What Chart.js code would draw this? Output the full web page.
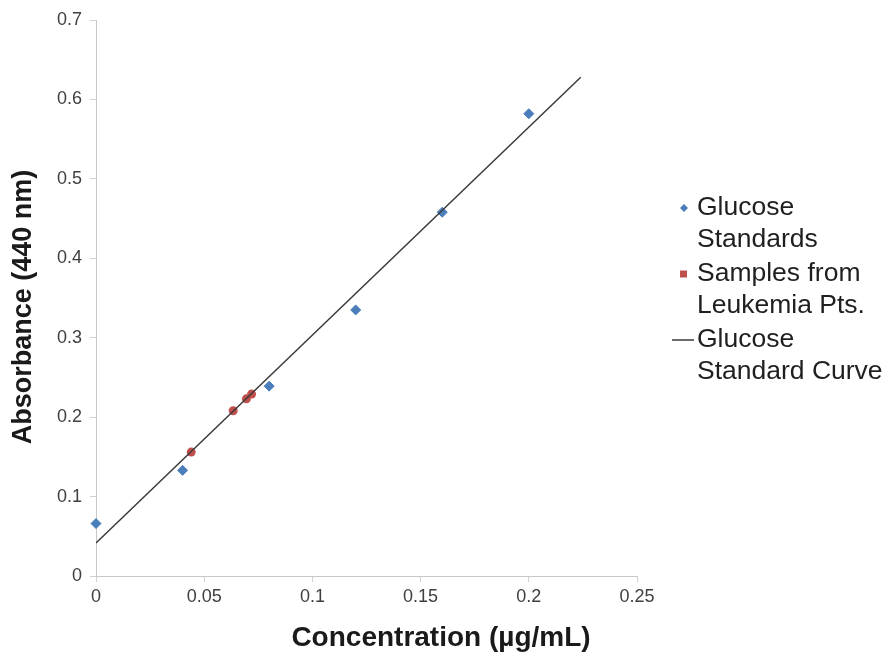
<!DOCTYPE html>
<html>
<head>
<meta charset="utf-8">
<script src="https://cdn.jsdelivr.net/npm/chart.js@4"></script>
<style>
  html, body { margin: 0; padding: 0; background: #fff; overflow: hidden; }
  #chart { display: block; }
</style>
</head>
<body>
<canvas id="chart" width="887" height="658"></canvas>
<script>
// glucose standards
const stdConc = [0, 0.04, 0.08, 0.12, 0.16, 0.2];
const stdAbs = [0.066, 0.133, 0.239, 0.335, 0.458, 0.582];
// patient samples
const sampleConc = [0.044, 0.0634, 0.0695, 0.0719];
const sampleAbs = [0.156, 0.208, 0.223, 0.229];
// standard curve (fit line end points)
const curveConc = [0, 0.224];
const curveAbs = [0.0416, 0.628];

const xTicks = [0, 0.05, 0.1, 0.15, 0.2, 0.25];
const yTicks = [0, 0.1, 0.2, 0.3, 0.4, 0.5, 0.6, 0.7];

const xTitle = 'Concentration (µg/mL)';
const yTitle = 'Absorbance (440 nm)';

const legendLines = [
    ['Glucose', 'Standards'],
    ['Samples from', 'Leukemia Pts.'],
    ['Glucose', 'Standard Curve']
];

const FONT = '"Liberation Sans", Arial, sans-serif';

const toPoints = (xs, ys) => xs.map((x, i) => ({ x: x, y: ys[i] }));

// axis titles sit off-centre in the original, so they're drawn by hand
const axisTitles = {
    id: 'axisTitles',
    afterDraw(chart) {
        const ctx = chart.ctx;
        ctx.save();
        ctx.fillStyle = '#1a1a1a';
        ctx.textAlign = 'center';
        ctx.textBaseline = 'middle';
        ctx.font = 'bold 28px ' + FONT;
        ctx.fillText(xTitle, 441, 638);
        ctx.translate(24, 307);
        ctx.rotate(-Math.PI / 2);
        ctx.font = 'bold 27px ' + FONT;
        ctx.fillText(yTitle, 0, 0);
        ctx.restore();
    }
};

// legend drawn on the canvas, two lines per entry
const sideLegend = {
    id: 'sideLegend',
    afterDraw(chart) {
        const ctx = chart.ctx;
        ctx.save();
        ctx.font = '26.5px ' + FONT;
        ctx.textBaseline = 'middle';
        const textX = 697;
        let y = 208;
        chart.data.datasets.forEach((ds, i) => {
            const lines = legendLines[i];
            if (ds.showLine) {
                ctx.strokeStyle = ds.borderColor;
                ctx.lineWidth = 1.5;
                ctx.beginPath();
                ctx.moveTo(672, y);
                ctx.lineTo(694, y);
                ctx.stroke();
            } else if (ds.pointStyle === 'rectRot') {
                ctx.fillStyle = ds.backgroundColor;
                ctx.beginPath();
                ctx.moveTo(684, y - 4);
                ctx.lineTo(688, y);
                ctx.lineTo(684, y + 4);
                ctx.lineTo(680, y);
                ctx.closePath();
                ctx.fill();
            } else {
                ctx.fillStyle = ds.backgroundColor;
                ctx.fillRect(680, y - 3.5, 7, 7);
            }
            ctx.fillStyle = '#1f1f1f';
            lines.forEach((t, j) => ctx.fillText(t, textX, y + j * 31.5));
            y += 66;
        });
        ctx.restore();
    }
};

new Chart(document.getElementById('chart'), {
    type: 'scatter',
    data: {
        datasets: [
            {
                label: 'Glucose Standards',
                data: toPoints(stdConc, stdAbs),
                pointStyle: 'rectRot',
                pointRadius: 5,
                backgroundColor: '#4a7ebb',
                borderColor: '#4a7ebb',
                clip: false,
                order: 2
            },
            {
                label: 'Samples from Leukemia Pts.',
                data: toPoints(sampleConc, sampleAbs),
                pointStyle: 'circle',
                pointRadius: 4.5,
                borderWidth: 0,
                backgroundColor: '#c0504d',
                borderColor: '#c0504d',
                clip: false,
                order: 1
            },
            {
                label: 'Glucose Standard Curve',
                data: toPoints(curveConc, curveAbs),
                showLine: true,
                pointRadius: 0,
                borderColor: '#3a3a3a',
                borderWidth: 1.5,
                backgroundColor: '#3a3a3a',
                order: 0
            }
        ]
    },
    options: {
        responsive: false,
        animation: false,
        devicePixelRatio: 1,
        layout: { padding: { left: 0, top: 20, right: 250, bottom: 0 } },
        plugins: {
            legend: { display: false },
            tooltip: { enabled: false }
        },
        scales: {
            x: {
                type: 'linear',
                min: 0,
                max: 0.25,
                afterBuildTicks: s => { s.ticks = xTicks.map(v => ({ value: v })); },
                afterFit: s => { s.height = 82; },
                grid: { drawOnChartArea: false, drawTicks: true, tickLength: 6, color: '#d0d0d0' },
                border: { display: true, color: '#c8c8c8', width: 1 },
                ticks: {
                    color: '#404040',
                    padding: 4,
                    font: { family: FONT, size: 18 },
                    callback: v => String(v)
                }
            },
            y: {
                type: 'linear',
                min: 0,
                max: 0.7,
                afterBuildTicks: s => { s.ticks = yTicks.map(v => ({ value: v })); },
                afterFit: s => { s.width = 96; },
                grid: { drawOnChartArea: false, drawTicks: true, tickLength: 6, color: '#d0d0d0' },
                border: { display: true, color: '#c8c8c8', width: 1 },
                ticks: {
                    color: '#404040',
                    padding: 8,
                    font: { family: FONT, size: 18 },
                    callback: v => String(v)
                }
            }
        }
    },
    plugins: [axisTitles, sideLegend]
});
</script>
</body>
</html>
